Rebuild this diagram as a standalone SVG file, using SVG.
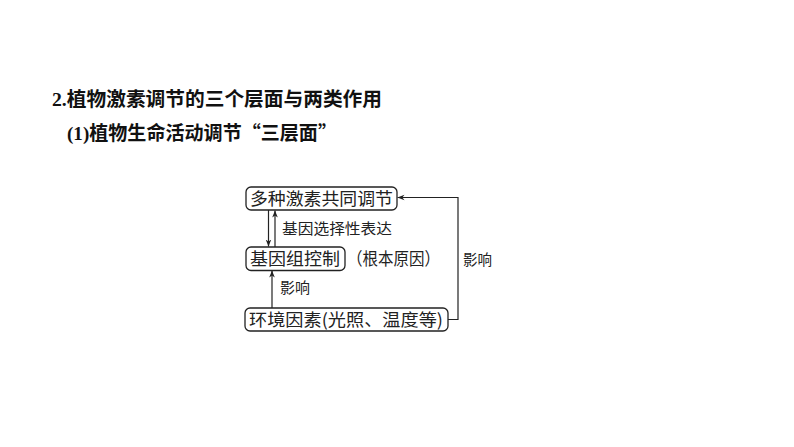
<svg xmlns="http://www.w3.org/2000/svg" width="794" height="447" viewBox="0 0 794 447">
<defs>
<style>
.title{font-family:"Liberation Serif","Noto Sans CJK SC",serif;font-weight:bold;font-size:19.5px;fill:#111}
.cjk{font-family:"Noto Sans CJK SC","Noto Sans CJK JP",sans-serif}
.box{fill:#fff;stroke:#222;stroke-width:1.3}
.bt{font-family:"Noto Sans CJK SC","Noto Sans CJK JP",sans-serif;font-size:17.5px;fill:#222}
.lb{font-family:"Noto Sans CJK SC","Noto Sans CJK JP",sans-serif;font-size:15px;fill:#222}
.ln{fill:none;stroke:#222;stroke-width:1.2}
</style>
<marker id="ah" viewBox="0 0 10 10" refX="10" refY="5" markerWidth="7" markerHeight="7" markerUnits="userSpaceOnUse" orient="auto">
<path d="M0,1 L10,5 L0,9 L3,5 Z" fill="#222"/>
</marker>
</defs>
<rect width="794" height="447" fill="#fff"/>
<text class="title" x="52" y="106" textLength="330" lengthAdjust="spacingAndGlyphs">2.植物激素调节的三个层面与两类作用</text>
<text class="title" x="67" y="140" textLength="270" lengthAdjust="spacingAndGlyphs">(1)植物生命活动调节<tspan class="cjk">“三层面”</tspan></text>
<g id="connectors">
<line class="ln" x1="268.5" y1="210" x2="268.5" y2="246.5" marker-end="url(#ah)"/>
<line class="ln" x1="275" y1="247" x2="275" y2="210.5" marker-end="url(#ah)"/>
<line class="ln" x1="272" y1="308" x2="272" y2="270.5" marker-end="url(#ah)"/>
<polyline class="ln" points="448,319.5 458,319.5 458,197.5 397.5,197.5" marker-end="url(#ah)"/>
<text class="lb" x="282" y="234" textLength="110" lengthAdjust="spacingAndGlyphs">基因选择性表达</text>
<text class="lb" x="280" y="293" textLength="30" lengthAdjust="spacingAndGlyphs">影响</text>
<text class="lb" x="463" y="265" textLength="29" lengthAdjust="spacingAndGlyphs">影响</text>
</g>
<g id="node-hormones">
<rect class="box" x="246" y="187" width="151" height="23" rx="5"/>
<text class="bt" x="250" y="204.8" textLength="143" lengthAdjust="spacingAndGlyphs">多种激素共同调节</text>
</g>
<g id="node-genome">
<rect class="box" x="246" y="247" width="99" height="23.5" rx="5"/>
<text class="bt" x="250" y="264.8" textLength="90" lengthAdjust="spacingAndGlyphs">基因组控制</text>
<text class="bt" x="347" y="264.8" textLength="93" lengthAdjust="spacingAndGlyphs">（根本原因）</text>
</g>
<g id="node-environment">
<rect class="box" x="245" y="308" width="203" height="23" rx="5"/>
<text class="bt" x="249" y="325.8" textLength="194" lengthAdjust="spacingAndGlyphs">环境因素(光照、温度等)</text>
</g>
</svg>
